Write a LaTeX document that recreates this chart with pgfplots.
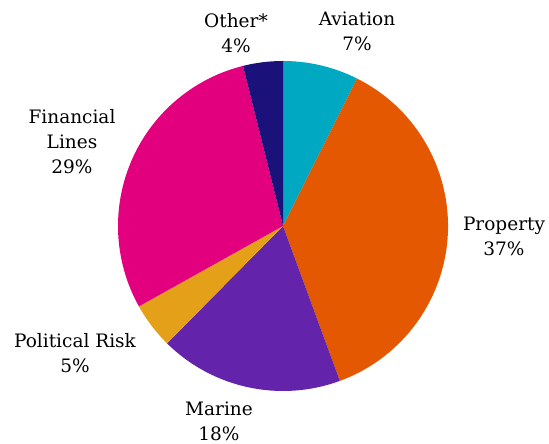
\documentclass[border=0pt]{standalone}
\usepackage{pgfplots}
\pgfplotsset{compat=1.18}
\usepackage{fontspec}
\setmainfont{DejaVu Serif}
\definecolor{cAv}{RGB}{0,169,193}
\definecolor{cPr}{RGB}{227,88,0}
\definecolor{cMa}{RGB}{99,35,170}
\definecolor{cPo}{RGB}{229,160,25}
\definecolor{cFi}{RGB}{226,0,126}
\definecolor{cOt}{RGB}{27,17,122}
% shares (percent), clockwise from 12 o'clock
\def\vAv{7.4}\def\vPr{37.0}\def\vMa{18.0}\def\vPo{4.5}\def\vFi{29.2}\def\vOt{3.9}
\pgfmathsetmacro{\aA}{90}
\pgfmathsetmacro{\aB}{\aA-3.6*\vAv}
\pgfmathsetmacro{\aC}{\aB-3.6*\vPr}
\pgfmathsetmacro{\aD}{\aC-3.6*\vMa}
\pgfmathsetmacro{\aE}{\aD-3.6*\vPo}
\pgfmathsetmacro{\aF}{\aE-3.6*\vFi}
\pgfmathsetmacro{\aG}{\aF-3.6*\vOt}
\begin{document}
\begin{tikzpicture}
\begin{axis}[x=1bp,y=1bp,xmin=0,xmax=549,ymin=0,ymax=444,hide axis,clip=false,
  scale only axis]
\path (axis cs:0,0) rectangle (axis cs:549,444);
\fill[cAv] (axis cs:283,218) -- ++(\aA:165bp) arc[start angle=\aA, end angle=\aB, radius=165bp] -- cycle;
\fill[cPr] (axis cs:283,218) -- ++(\aB:165bp) arc[start angle=\aB, end angle=\aC, radius=165bp] -- cycle;
\fill[cMa] (axis cs:283,218) -- ++(\aC:165bp) arc[start angle=\aC, end angle=\aD, radius=165bp] -- cycle;
\fill[cPo] (axis cs:283,218) -- ++(\aD:165bp) arc[start angle=\aD, end angle=\aE, radius=165bp] -- cycle;
\fill[cFi] (axis cs:283,218) -- ++(\aE:165bp) arc[start angle=\aE, end angle=\aF, radius=165bp] -- cycle;
\fill[cOt] (axis cs:283,218) -- ++(\aF:165bp) arc[start angle=\aF, end angle=\aG, radius=165bp] -- cycle;
\tikzset{lab/.style={font=\fontsize{18.5bp}{25bp}\selectfont, align=center, inner sep=0pt}}
\node[lab] at (axis cs:236,411) {Other*\\4\%};
\node[lab] at (axis cs:357,412.5) {Aviation\\7\%};
\node[lab] at (axis cs:72,302) {Financial\\Lines\\29\%};
\node[lab] at (axis cs:504,207.5) {Property\\37\%};
\node[lab] at (axis cs:75,91) {Political Risk\\5\%};
\node[lab] at (axis cs:219,23) {Marine\\18\%};
\end{axis}
\end{tikzpicture}
\end{document}
